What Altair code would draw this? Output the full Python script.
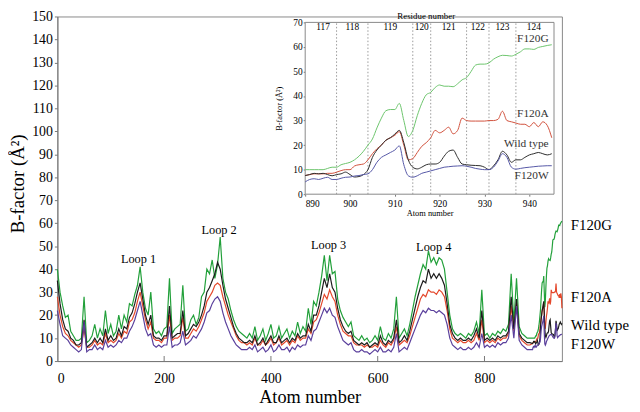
import altair as alt
import pandas as pd

FONT = "Liberation Serif"
SERIES = ["F120G", "F120A", "Wild type", "F120W"]
MAIN_COLORS = ["#22a03a", "#e4482c", "#1c1c1c", "#5a3f9c"]
INSET_COLORS = ["#6cc46c", "#d0503c", "#2b2b2b", "#5456a6"]

ATOMS_COARSE = list(range(0, 890, 5))
ATOMS_FINE = list(range(890, 946))

G_COARSE = [40, 30, 24, 19, 20, 13, 11, 9, 9, 10,
            28, 8, 9, 11, 16, 10, 14, 11, 22, 12,
            16, 11, 13, 20, 14, 20, 17, 25, 24, 29,
            33, 41, 30, 23, 20, 30, 14, 12, 13, 11,
            14, 15, 36, 12, 14, 15, 16, 33, 13, 14,
            18, 20, 16, 19, 28, 30, 40, 38, 44, 36,
            42, 54, 36, 30, 27, 22, 18, 15, 13, 12,
            11, 10, 12, 10, 15, 9, 11, 14, 9, 12,
            16, 10, 11, 15, 10, 12, 14, 10, 13, 11,
            17, 12, 15, 13, 23, 16, 26, 24, 30, 37,
            46, 35, 46, 38, 39, 27, 22, 19, 17, 15,
            17, 11, 10, 9, 11, 9, 10, 8, 9, 11,
            9, 15, 10, 9, 12, 10, 14, 28, 10, 12,
            14, 11, 16, 22, 28, 33, 38, 42, 40, 48,
            43, 45, 42, 45, 44, 40, 30, 20, 14, 12,
            11, 12, 11, 10, 12, 11, 13, 17, 12, 31,
            11, 12, 10, 12, 11, 13, 12, 14, 13, 16,
            38, 17, 36, 15, 12, 11, 10, 10]
W_COARSE = [35, 25, 18, 14, 13, 10, 9, 7, 7, 8,
            18, 6, 7, 8, 10, 8, 10, 8, 14, 9,
            11, 9, 10, 14, 11, 15, 14, 19, 21, 25,
            30, 34, 27, 20, 16, 20, 11, 10, 10, 9,
            11, 11, 24, 10, 11, 12, 12, 22, 11, 12,
            14, 16, 15, 17, 20, 24, 30, 32, 35, 38,
            43, 40, 33, 27, 23, 19, 15, 12, 10, 9,
            8, 8, 9, 8, 11, 7, 8, 10, 7, 9,
            11, 8, 8, 11, 8, 9, 10, 8, 10, 9,
            12, 10, 11, 11, 16, 13, 20, 20, 24, 30,
            36, 32, 38, 32, 30, 23, 18, 15, 13, 12,
            13, 9, 8, 7, 8, 7, 8, 6, 7, 8,
            7, 11, 8, 7, 9, 8, 10, 18, 8, 9,
            11, 9, 13, 18, 23, 28, 32, 35, 34, 40,
            36, 38, 36, 38, 36, 33, 25, 16, 12, 10,
            9, 10, 9, 9, 10, 9, 11, 14, 10, 22,
            9, 10, 9, 10, 9, 11, 10, 11, 11, 13,
            28, 14, 27, 12, 10, 9, 8, 8]
A_COARSE = [28, 20, 15, 12, 11, 9, 8, 7, 6, 7,
            14, 6, 6, 7, 9, 7, 8, 7, 12, 8,
            9, 8, 9, 12, 10, 13, 12, 17, 18, 21,
            26, 30, 24, 18, 14, 17, 10, 9, 9, 8,
            10, 10, 20, 9, 10, 10, 11, 19, 10, 10,
            12, 14, 13, 15, 18, 21, 26, 28, 30, 33,
            34, 33, 28, 24, 20, 17, 14, 11, 9, 8,
            8, 7, 8, 7, 10, 7, 7, 9, 7, 8,
            10, 7, 8, 10, 7, 8, 9, 7, 9, 8,
            11, 9, 10, 10, 14, 12, 17, 18, 21, 25,
            29, 27, 31, 28, 26, 20, 16, 13, 12, 11,
            11, 8, 7, 7, 7, 6, 7, 6, 6, 7,
            6, 9, 7, 6, 8, 7, 9, 15, 7, 8,
            9, 8, 11, 15, 19, 23, 27, 29, 28, 31,
            30, 30, 29, 31, 30, 28, 22, 14, 10, 9,
            8, 9, 8, 8, 9, 8, 9, 12, 9, 18,
            8, 9, 8, 9, 8, 10, 9, 10, 10, 12,
            24, 13, 25, 11, 9, 8, 7, 7]
F_COARSE = [22, 16, 11, 10, 9, 7, 6, 5, 4, 5,
            17, 4, 5, 5, 7, 5, 6, 5, 9, 6,
            7, 6, 7, 9, 8, 10, 10, 13, 15, 18,
            22, 26, 20, 14, 11, 12, 7, 6, 7, 6,
            7, 7, 15, 6, 7, 7, 8, 13, 7, 8,
            9, 11, 10, 12, 14, 17, 21, 22, 25, 27,
            28, 26, 21, 17, 14, 11, 9, 7, 6, 5,
            5, 5, 6, 5, 7, 4, 5, 6, 4, 5,
            7, 4, 5, 7, 5, 5, 6, 4, 6, 5,
            7, 6, 7, 7, 11, 9, 13, 14, 17, 20,
            23, 21, 23, 20, 19, 15, 12, 9, 8, 7,
            8, 5, 4, 4, 5, 4, 4, 3, 4, 5,
            4, 6, 4, 4, 5, 4, 6, 12, 4, 5,
            6, 5, 8, 11, 14, 17, 20, 22, 21, 23,
            22, 22, 21, 22, 21, 20, 16, 10, 7, 6,
            5, 6, 5, 5, 6, 5, 6, 8, 6, 12,
            6, 7, 6, 7, 6, 8, 7, 8, 8, 10,
            20, 10, 24, 9, 7, 6, 5, 5]

G_FINE = [10, 10, 10, 10, 10, 10.5, 11, 11, 12, 12.5,
          13, 14, 15.5, 17.5, 20, 22.5, 27, 31, 34, 34.5,
          34.5, 37, 30, 23.5, 26, 32, 37, 40.5, 41.5, 43.5,
          44.5, 44, 44, 43.8, 45, 46.6, 47.5, 50, 52.6, 53,
          53, 53.5, 55, 56, 56.6, 56.5, 56.3, 57, 58, 59.2,
          59.2, 59, 59.8, 60.2, 60.6, 60.9]
A_FINE = [7.6, 8, 8.3, 8.3, 8.3, 8.5, 8.5, 9, 9.6, 10,
          10, 11.5, 12, 12.3, 14, 16.5, 18.5, 20, 22, 23,
          24, 25.5, 20, 14, 14.5, 17, 19.5, 21, 23, 26,
          25, 26, 27.3, 24.6, 26, 31, 30, 29.8, 29.8, 29.8,
          29.8, 30, 30, 30.5, 33.8, 30, 29.5, 29, 28.5, 28.5,
          27.5, 29.2, 27.5, 29.5, 28, 23]
W_FINE = [7.6, 8, 8.5, 8.3, 8.5, 8, 7.5, 8, 8.3, 9,
          8, 7, 7.2, 8, 10, 15, 18, 20, 22, 23,
          24.5, 26, 21, 14, 11, 10.3, 11, 12, 12.3, 12.3,
          13, 15.5, 17.5, 18, 15, 12.3, 12, 11.8, 11.7, 11.6,
          11, 10, 11.5, 14, 17.5, 16, 13, 14, 14, 15,
          16, 16.5, 17, 16.5, 16, 16.5]
F_FINE = [5, 6, 6.3, 6, 6.5, 6.9, 6, 6, 6.5, 6.9,
          7, 7.4, 7.6, 8, 8.3, 10, 13, 15, 16, 17,
          18, 19.7, 12, 7.5, 6.9, 7.5, 8.5, 9, 9.5, 10,
          10.5, 11, 11.2, 11.4, 11.5, 11.6, 11.4, 11, 10.5, 10.2,
          10, 10, 11, 13.5, 16.5, 15, 11, 10.2, 10.5, 10.8,
          11, 11.2, 11.4, 11.5, 11.6, 11.6]

# axes / annotations
X_TICKS = [0, 200, 400, 600, 800]
Y_TICKS = list(range(0, 151, 10))
MAIN_X_DOMAIN = [0, 945]
MAIN_Y_DOMAIN = [0, 150]
LABEL_B = [59.3, 27.9, 15.5, 7.3]
LOOP_NAMES = ["Loop 1", "Loop 2", "Loop 3", "Loop 4"]
LOOP_ATOMS = [152, 303, 508, 705]
LOOP_B = [44.3, 57.2, 50.7, 49.8]

IN_X_DOMAIN = [890, 945.5]
IN_Y_DOMAIN = [0, 70]
IN_X_TICKS = [890, 900, 910, 920, 930, 940]
IN_Y_TICKS = list(range(0, 71, 10))
RES_NAMES = ["117", "118", "119", "120", "121", "122", "123", "124"]
RES_CENTERS = [894, 900.5, 909, 916, 922, 928.5, 934, 941]
RES_BOUNDS = [897, 904, 914, 918, 926, 931, 937]
IN_LABEL_B = [63.3, 32.6, 20.5, 7.6]

rows = []
for name, coarse, fine in zip(SERIES, [G_COARSE, A_COARSE, W_COARSE, F_COARSE],
                              [G_FINE, A_FINE, W_FINE, F_FINE]):
    for a, v in zip(ATOMS_COARSE + ATOMS_FINE, coarse + fine):
        rows.append({"series": name, "atom": a, "b": v})
df_main = pd.DataFrame(rows)
df_inset = df_main[df_main["atom"] >= 890].reset_index(drop=True)

W, H = 511, 349

# ---------- main panel ----------
sx = alt.Scale(domain=MAIN_X_DOMAIN, nice=False, zero=False)
sy = alt.Scale(domain=MAIN_Y_DOMAIN, nice=False)
ax_x = alt.Axis(values=X_TICKS, title="Atom number", labelFont=FONT, labelFontSize=14,
                titleFont=FONT, titleFontSize=18.5, titleFontWeight="normal", tickSize=0,
                labelPadding=11, domainColor="#777", titleY=42, titleBaseline="alphabetic",
                labelColor="black", titleColor="black", grid=False)
ax_y = alt.Axis(values=Y_TICKS, title="B-factor (Å²)", labelFont=FONT, labelFontSize=14,
                titleFont=FONT, titleFontSize=19, titleFontWeight="normal", tickSize=3,
                labelPadding=2, domainColor="#777", tickColor="#777", titleX=-40, titleY=169,
                titleBaseline="middle", titleAngle=270, labelColor="black", titleColor="black",
                grid=False)
X = lambda f="atom": alt.X(f"{f}:Q", scale=sx, axis=ax_x)
Y = lambda f="b": alt.Y(f"{f}:Q", scale=sy, axis=ax_y)

df_ticks = pd.DataFrame({"atom": X_TICKS[1:], "b": [0] * 4, "b2": [2.2] * 4})
main_ticks = alt.Chart(df_ticks).mark_rule(color="#777").encode(x=X(), y=Y(), y2="b2:Q")

main_lines = alt.Chart(df_main).mark_line(strokeWidth=1.2).encode(
    x=X(), y=Y(),
    color=alt.Color("series:N", scale=alt.Scale(domain=SERIES, range=MAIN_COLORS), legend=None),
)
df_lab = pd.DataFrame({"label": SERIES, "atom": [945] * 4, "b": LABEL_B})
main_labels = alt.Chart(df_lab).mark_text(align="left", baseline="middle", dx=9, font=FONT,
                                          fontSize=15, color="black").encode(
    x=X(), y=Y(), text="label:N")
df_loop = pd.DataFrame({"label": LOOP_NAMES, "atom": LOOP_ATOMS, "b": LOOP_B})
loop_labels = alt.Chart(df_loop).mark_text(align="center", baseline="middle", font=FONT,
                                           fontSize=12.5, color="black").encode(
    x=X(), y=Y(), text="label:N")
main = alt.layer(main_ticks, main_lines, main_labels, loop_labels)

# ---------- inset panel ----------
isx = alt.Scale(domain=IN_X_DOMAIN, range=[251, 503], nice=False, zero=False)
isy = alt.Scale(domain=IN_Y_DOMAIN, range=[180, 6], nice=False)
iax_x = alt.Axis(orient="bottom", offset=180 - H, values=IN_X_TICKS, title="Atom number",
                 labelFont=FONT, labelFontSize=9.5, titleFont=FONT, titleFontSize=8.5,
                 titleFontWeight="normal", tickSize=2, labelPadding=2, domain=False,
                 titlePadding=1, tickColor="#777", labelColor="black", titleColor="black",
                 grid=False)
iax_y = alt.Axis(orient="left", offset=-251, values=IN_Y_TICKS, title="B-factor (Å²)",
                 labelFont=FONT, labelFontSize=9.5, titleFont=FONT, titleFontSize=8.5,
                 titleFontWeight="normal", tickSize=2, labelPadding=1, domain=False,
                 tickColor="#777", titleX=-27, titleY=93, titleBaseline="middle",
                 titleAngle=270, labelColor="black", titleColor="black", grid=False)
IX = lambda f="atom": alt.X(f"{f}:Q", scale=isx, axis=iax_x)
IY = lambda f="b": alt.Y(f"{f}:Q", scale=isy, axis=iax_y)

df_frame = pd.DataFrame({"atom": [IN_X_DOMAIN[0]], "atom2": [IN_X_DOMAIN[1]],
                         "b": [IN_Y_DOMAIN[0]], "b2": [IN_Y_DOMAIN[1]]})
frame = alt.Chart(df_frame).mark_rect(fill="white", stroke="#888", strokeWidth=1).encode(
    x=IX(), x2="atom2:Q", y=IY(), y2="b2:Q")
df_bounds = pd.DataFrame({"atom": RES_BOUNDS, "b": [IN_Y_DOMAIN[0]] * len(RES_BOUNDS),
                          "b2": [IN_Y_DOMAIN[1]] * len(RES_BOUNDS)})
res_rules = alt.Chart(df_bounds).mark_rule(color="#999", strokeDash=[1.5, 2], strokeWidth=1).encode(
    x=IX(), y=IY(), y2="b2:Q")
df_res = pd.DataFrame({"label": RES_NAMES, "atom": RES_CENTERS, "b": [68] * len(RES_NAMES)})
res_text = alt.Chart(df_res).mark_text(baseline="middle", font=FONT, fontSize=9.5,
                                       color="black").encode(x=IX(), y=IY(), text="label:N")
df_rt = pd.DataFrame({"label": ["Residue number"], "atom": [917], "b": [72.6]})
res_title = alt.Chart(df_rt).mark_text(baseline="middle", font=FONT, fontSize=9,
                                       color="black").encode(x=IX(), y=IY(), text="label:N")
inset_lines = alt.Chart(df_inset).mark_line(strokeWidth=1, interpolate="monotone").encode(
    x=IX(), y=IY(),
    color=alt.Color("series:N", scale=alt.Scale(domain=SERIES, range=INSET_COLORS), legend=None),
)
df_ilab = pd.DataFrame({"label": SERIES, "atom": [944.3] * 4, "b": IN_LABEL_B})
inset_labels = alt.Chart(df_ilab).mark_text(align="right", baseline="middle", font=FONT,
                                            fontSize=11.5, color="#333").encode(
    x=IX(), y=IY(), text="label:N")
inset = alt.layer(frame, res_rules, res_text, res_title, inset_lines, inset_labels)

chart = (
    alt.layer(main, inset)
    .resolve_scale(x="independent", y="independent", color="independent")
    .properties(width=W, height=H, autosize=alt.AutoSizeParams(type="none"),
                padding={"left": 50, "top": 6, "right": 71, "bottom": 49})
    .configure_view(stroke="#888", strokeWidth=1)
    .configure_axis(grid=False)
)
chart.save("out.html", embed_options={"renderer": "svg", "actions": False})
